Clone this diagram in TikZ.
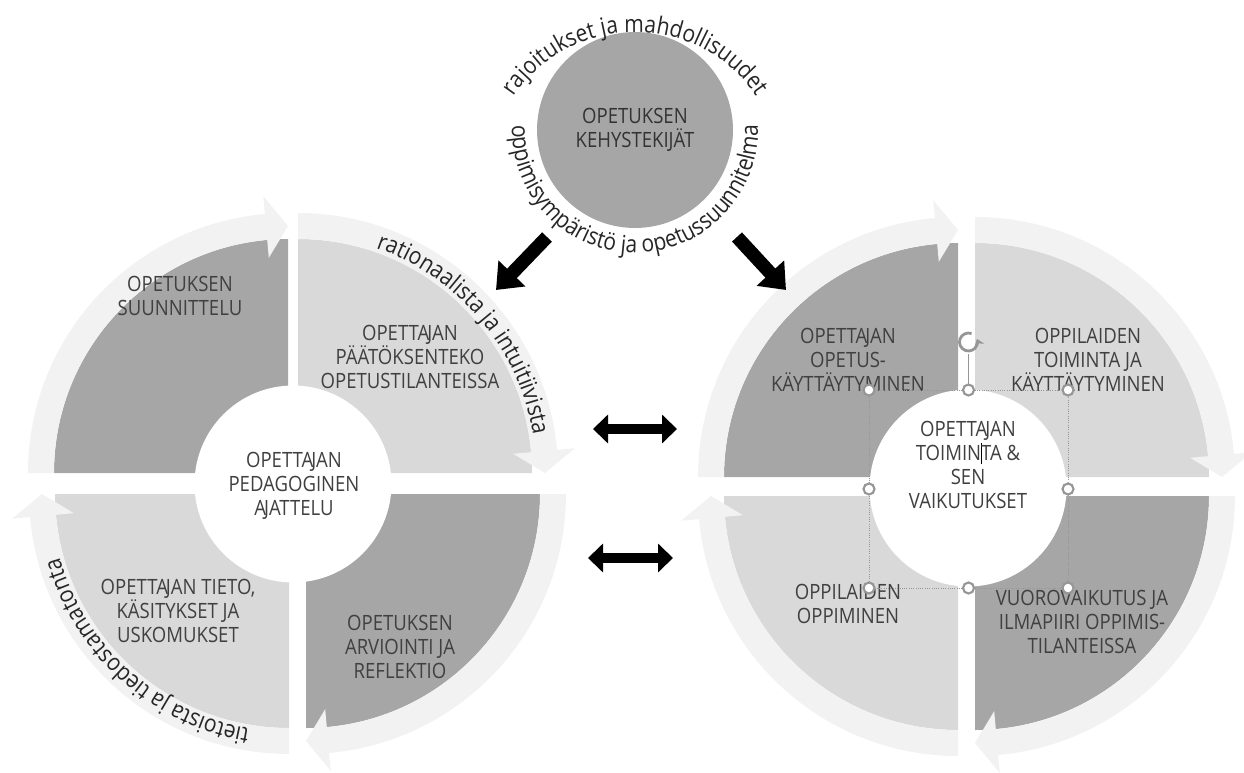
\documentclass[tikz,border=0pt]{standalone}
\usepackage{fontspec}
\setmainfont{Open Sans}[FakeStretch=0.88]
\usetikzlibrary{arrows.meta,positioning,decorations.text}
\definecolor{tumma}{RGB}{166,166,166}
\definecolor{vaalea}{RGB}{217,217,217}
\definecolor{nauha}{RGB}{242,242,242}
\definecolor{tekstiHarmaa}{RGB}{64,64,64}
\definecolor{kaariMusta}{RGB}{38,38,38}
\definecolor{kahvaHarmaa}{RGB}{150,150,150}

\newcommand{\kaarifont}{\fontsize{13.6}{16}\selectfont\color{kaariMusta}}
\newcommand{\AJ}{A\kern-0.1em J}

% yksi sektori ja sen nuoli: kulma x, kulma y, alkukulma, väri
\newcommand{\sektori}[4]{%
  \pgfmathsetmacro{\kA}{#3-84.9}%
  \pgfmathsetmacro{\kB}{#3-90}%
  \begin{scope}[shift={(#1,#2)}]
    \fill[#4] (0,0) -- (#3:234) arc[start angle=#3, end angle=\kB, radius=234] -- cycle;
    \fill[nauha] (#3:234) arc[start angle=#3, end angle=\kA, radius=234]
      -- (\kA:216) -- (\kB:247) -- (\kA:278) -- (\kA:260)
      arc[start angle=\kA, end angle=#3, radius=260] -- cycle;
  \end{scope}}

\begin{document}
\begin{tikzpicture}[x=0.02cm, y=0.02cm,
    teksti/.style={align=center, text=tekstiHarmaa, font=\fontsize{12}{13.6}\selectfont},
    keskus/.style={circle, fill=white, minimum size=3.94cm, inner sep=0pt},
    kaari/.style={decorate, decoration={text along path, text align=center, text={#1}}},
    nuoli/.style={line width=0.27cm, -{Triangle[length=0.46cm, width=0.72cm]}},
    kaksinuoli/.style={line width=0.2cm,
      {Triangle[length=0.3cm, width=0.56cm]}-{Triangle[length=0.3cm, width=0.56cm]}},
    kahva/.style={circle, draw=kahvaHarmaa, line width=1.2pt, fill=white,
      inner sep=0pt, minimum size=0.22cm}]
  \useasboundingbox (0,0) rectangle (1244,772);

  % vasen kehä
  \sektori{288}{299}{180}{tumma}
  \sektori{298}{299}{90}{vaalea}
  \sektori{306}{278}{0}{tumma}
  \sektori{289}{278}{-90}{vaalea}
  % oikea kehä
  \sektori{958}{295}{180}{tumma}
  \sektori{975}{295}{90}{vaalea}
  \sektori{975}{276}{0}{tumma}
  \sektori{958}{276}{-90}{vaalea}

  \node[keskus] (vasenKeskus) at (293,288) {};
  \node[keskus] (oikeaKeskus) at (968,284) {};

  % kehystekijät
  \node[circle, fill=tumma, minimum size=3.92cm, teksti, text=black!80] (kehys) at (635,642)
    {OPETUKSEN\\KEHYSTEKIJÄT};
  \path[kaari={|\kaarifont|rajoitukset ja mahdollisuudet}]
    ([shift={(160:146)}] 635,594) arc[start angle=160, end angle=20, radius=146];
  \path[kaari={|\kaarifont|oppimisympäristö ja opetussuunnitelma}]
    ([shift={(160:123)}] kehys.center) arc[start angle=160, end angle=380, radius=123];

  % vasemman kehän tekstit
  \node[teksti] (suunnittelu) at (180,476) {OPETUKSEN\\SUUNNITTELU};
  \node[teksti] (paatoksenteko) at (410,415) {OPETT\AJ AN\\PÄÄTÖKSENTEKO\\OPETUSTILANTEISSA};
  \node[teksti] (tieto) at (178,161) {OPETT\AJ AN TIETO,\\KÄSITYKSET JA\\USKOMUKSET};
  \node[teksti] (arviointi) at (400,125) {OPETUKSEN\\ARVIOINTI JA\\REFLEKTIO};
  \node[teksti] (ajattelu) at (294,286) {OPETT\AJ AN\\PEDAGOGINEN\\\AJ ATTELU};
  \path[kaari={|\kaarifont|rationaalista ja intuitiivista}]
    ([shift={(85:238)}] 298,299) arc[start angle=85, end angle=-5, radius=238];
  \path[kaari={|\kaarifont|tietoista ja tiedostamatonta}]
    ([shift={(273:238)}] 289,278) arc[start angle=273, end angle=183, radius=238];

  % oikean kehän tekstit
  \node[teksti] (kayttaytyminen) at (848,412) {OPETT\AJ AN\\OPETUS-\\KÄYTTÄYTYMINEN};
  \node[teksti] (toiminta) at (1088,412) {OPPILAIDEN\\TOIMINTA JA\\KÄYTTÄYTYMINEN};
  \node[teksti] (oppiminen) at (848,168) {OPPILAIDEN\\OPPIMINEN};
  \node[teksti] (vuorovaikutus) at (1082,150) {VUOROVAIKUTUS JA\\ILMAPIIRI OPPIMIS-\\TILANTEISSA};
  \node[teksti] (vaikutukset) at (968,307)
    {OPETT\AJ AN\\TOIMIN\rlap{\color{black}\rule[-2pt]{0.5pt}{12pt}}TA \&\\SEN\\VAIKUTUKSET};

  % nuolet
  \coordinate (vasenAlku) at (547,535);
  \coordinate (vasenKarki) at (496,482);
  \coordinate (oikeaAlku) at (737,535);
  \coordinate (oikeaKarki) at (786,482);
  \draw[nuoli] (vasenAlku) -- (vasenKarki);
  \draw[nuoli] (oikeaAlku) -- (oikeaKarki);
  \coordinate (ylaVasen) at (593,343);
  \coordinate (ylaOikea) at (677,343);
  \coordinate (alaVasen) at (588,214);
  \coordinate (alaOikea) at (673,214);
  \draw[kaksinuoli] (ylaVasen) -- (ylaOikea);
  \draw[kaksinuoli] (alaVasen) -- (alaOikea);

  % valintakehys ja kahvat
  \draw[kahvaHarmaa, densely dotted, line width=0.3pt] (869,184) rectangle (1068,382);
  \draw[kahvaHarmaa, line width=0.4pt] (968.5,382) -- (968.5,418);
  \draw[kahvaHarmaa, line width=1.6pt, -{Stealth[length=4pt, width=6pt]}]
    ([shift={(70:9)}] 968.5,430) arc[start angle=70, end angle=380, radius=9];
  \foreach \hx/\hy [count=\i] in {869/382, 968.5/382, 1068/382, 869/283,
      1068/283, 869/184, 968.5/184, 1068/184}
    \node[kahva] (kahva\i) at (\hx,\hy) {};
\end{tikzpicture}
\end{document}
